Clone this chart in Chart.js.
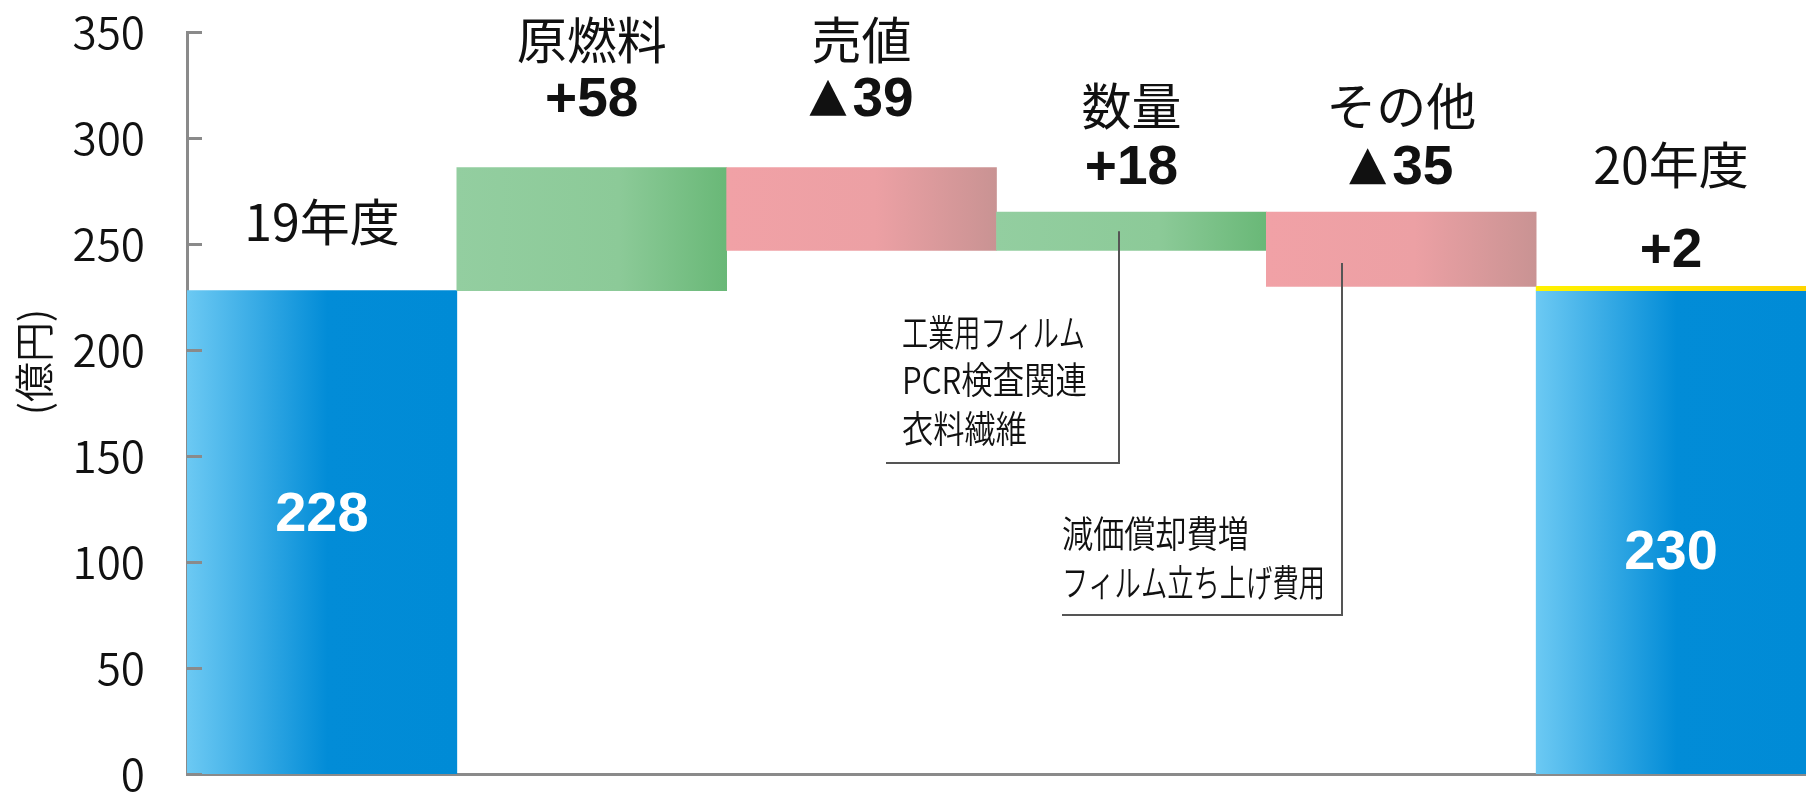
<!DOCTYPE html>
<html lang="ja">
<head>
<meta charset="utf-8">
<title>営業利益増減</title>
<script src="https://cdn.jsdelivr.net/npm/chart.js@4.4.1/dist/chart.umd.min.js"></script>
<style>
  html, body { margin: 0; padding: 0; background: #ffffff; }
  #wrap { width: 1806px; height: 793px; }
</style>
</head>
<body>
<div id="wrap"><canvas id="bridge" width="1806" height="793"></canvas></div>
<script>
// --- data ---
const categories = ["19年度", "原燃料", "売値", "数量", "その他", "20年度"];
const startValue = 228;
const deltas = [58, -39, 18, -35];
const deltaLabels = ["+58", "▲39", "+18", "▲35"];
const endValue = 230;
const endChangeLabel = "+2";
const axisTitle = "(億円)";
const yMin = 0;
const yMax = 350;
const yStep = 50;
const noteTexts = [
  ["工業用フィルム", "PCR検査関連", "衣料繊維"],
  ["減価償却費増", "フィルム立ち上げ費用"],
];

// floating ranges for the bridge
let running = startValue;
const ranges = [[0, startValue]];
deltas.forEach((d) => {
  const next = running + d;
  ranges.push([Math.min(running, next), Math.max(running, next)]);
  running = next;
});
ranges.push([0, Math.min(startValue, endValue)]);
const topUp = categories.map((c, i) => (i === categories.length - 1 ? [startValue, endValue] : null));
const changeLabels = [null, ...deltaLabels, endChangeLabel];
const barKind = ["total", ...deltas.map((d) => (d >= 0 ? "up" : "down")), "total"];

// --- layout / style (not data) ---
const nameOffsets = [69, 128, 128, 106, 106, 121]; // px above bar top
const changeOffsets = [null, 72, 72, 48, 48, 39];
const totalLabelAt = [124, 106]; // where the white totals sit (axis units)
const noteLayout = [
  { anchorX: 1119, anchorValue: 256, elbowY: 463, endX: 886, textX: 902, lineY: [333, 380, 429], widths: [183, 185, 125] },
  { anchorX: 1342, anchorValue: 241, elbowY: 615, endX: 1062, textX: 1062, lineY: [534, 583], widths: [187, 263] },
];
const axisGray = "#8a8a8a";
const jpFont = "'Noto Sans CJK JP', 'Noto Sans', sans-serif";
const numFont = "'Liberation Sans', Arial, sans-serif";

const fills = {
  total: [[0, "#6cc9f3"], [0.52, "#028cd7"], [1, "#008bd6"]],
  up: [[0, "#93cea0"], [0.6, "#8cca98"], [1, "#69b877"]],
  down: [[0, "#f1a1a6"], [0.55, "#eca0a4"], [1, "#c99393"]],
  topUp: [[0, "#fff200"], [1, "#ffd500"]],
};

function barGradient(context, stops) {
  const chart = context.chart;
  const area = chart.chartArea;
  if (!area) return stops[0][1];
  const half = (area.right - area.left) / categories.length / 2;
  const cx = chart.scales.x.getPixelForValue(context.dataIndex);
  const g = chart.ctx.createLinearGradient(cx - half, 0, cx + half, 0);
  stops.forEach(([p, c]) => g.addColorStop(p, c));
  return g;
}

// "+58" / "▲39": keep the triangle tight against the digits
function drawChange(ctx, text, cx, baseline) {
  ctx.font = "bold 55px " + numFont;
  if (text.startsWith("▲")) {
    const rest = text.slice(1);
    const restW = ctx.measureText(rest).width;
    const triW = 37, triH = 36, gap = 6;
    const left = cx - (triW + gap + restW) / 2;
    ctx.beginPath();
    ctx.moveTo(left, baseline);
    ctx.lineTo(left + triW, baseline);
    ctx.lineTo(left + triW / 2, baseline - triH);
    ctx.closePath();
    ctx.fill();
    ctx.textAlign = "left";
    ctx.fillText(rest, left + triW + gap, baseline);
    ctx.textAlign = "center";
  } else {
    ctx.fillText(text, cx, baseline);
  }
}

const bridgeLabels = {
  id: "bridgeLabels",
  afterDatasetsDraw(chart) {
    const { ctx, chartArea, scales: { x, y } } = chart;
    ctx.save();

    // inward tick marks on the value axis
    ctx.strokeStyle = axisGray;
    ctx.lineWidth = 3;
    y.ticks.forEach((t) => {
      const py = Math.round(y.getPixelForValue(t.value)) + 0.5;
      ctx.beginPath();
      ctx.moveTo(chartArea.left, py);
      ctx.lineTo(chartArea.left + 15, py);
      ctx.stroke();
    });

    ctx.textAlign = "center";
    ctx.fillStyle = "#111111";
    categories.forEach((name, i) => {
      const cx = x.getPixelForValue(i);
      const top = y.getPixelForValue(i === categories.length - 1 ? endValue : ranges[i][1]);
      ctx.font = "400 50px " + jpFont;
      ctx.textBaseline = "middle";
      ctx.fillText(name, cx, top - nameOffsets[i]);
      if (changeLabels[i]) {
        ctx.textBaseline = "alphabetic";
        drawChange(ctx, changeLabels[i], cx, top - changeOffsets[i] + 20);
      }
    });

    // totals inside the blue bars
    ctx.fillStyle = "#ffffff";
    ctx.font = "bold 56px " + numFont;
    ctx.textBaseline = "alphabetic";
    ctx.fillText(String(startValue), x.getPixelForValue(0), y.getPixelForValue(totalLabelAt[0]) + 20);
    ctx.fillText(String(endValue), x.getPixelForValue(categories.length - 1), y.getPixelForValue(totalLabelAt[1]) + 20);

    // leader lines and notes
    ctx.strokeStyle = "#555555";
    ctx.lineWidth = 2;
    ctx.fillStyle = "#111111";
    ctx.font = "350 37px " + jpFont;
    ctx.textAlign = "left";
    ctx.textBaseline = "middle";
    noteLayout.forEach((n, k) => {
      ctx.beginPath();
      ctx.moveTo(n.anchorX, y.getPixelForValue(n.anchorValue));
      ctx.lineTo(n.anchorX, n.elbowY);
      ctx.lineTo(n.endX, n.elbowY);
      ctx.stroke();
      noteTexts[k].forEach((line, j) => {
        ctx.fillText(line, n.textX, n.lineY[j], n.widths[j]);
      });
    });

    // axis title
    ctx.translate(34, 362);
    ctx.rotate(-Math.PI / 2);
    ctx.textAlign = "center";
    ctx.font = "350 40px " + jpFont;
    ctx.fillText(axisTitle, 0, 0);
    ctx.restore();
  },
};

const ctx = document.getElementById("bridge").getContext("2d");
const chart = new Chart(ctx, {
  type: "bar",
  data: {
    labels: categories,
    datasets: [
      {
        label: "増減",
        data: ranges,
        grouped: false,
        barPercentage: 1,
        categoryPercentage: 1,
        borderWidth: 0,
        backgroundColor: (c) => barGradient(c, fills[barKind[c.dataIndex]]),
        order: 2,
      },
      {
        label: "20年度増分",
        data: topUp,
        grouped: false,
        barPercentage: 1,
        categoryPercentage: 1,
        borderWidth: 0,
        backgroundColor: (c) => barGradient(c, fills.topUp),
        order: 1,
      },
    ],
  },
  options: {
    responsive: false,
    animation: false,
    layout: { padding: { top: 32, right: 0, bottom: 0, left: 0 } },
    plugins: {
      legend: { display: false },
      tooltip: { enabled: false },
    },
    scales: {
      x: {
        ticks: { display: false },
        grid: { display: false, drawTicks: false },
        border: { display: true, color: axisGray, width: 3 },
        afterFit: (scale) => {
          scale.height = 19;
          scale.paddingLeft = 0;
          scale.paddingRight = 0;
        },
      },
      y: {
        min: yMin,
        max: yMax,
        ticks: {
          stepSize: yStep,
          padding: 42,
          color: "#111111",
          font: { family: jpFont, size: 44, weight: 350 },
        },
        grid: { display: false, drawTicks: false },
        border: { display: true, color: axisGray, width: 3 },
        afterFit: (scale) => {
          scale.width = 187;
          scale.paddingTop = 0;
          scale.paddingBottom = 0;
        },
      },
    },
  },
  plugins: [bridgeLabels],
});
</script>
</body>
</html>
